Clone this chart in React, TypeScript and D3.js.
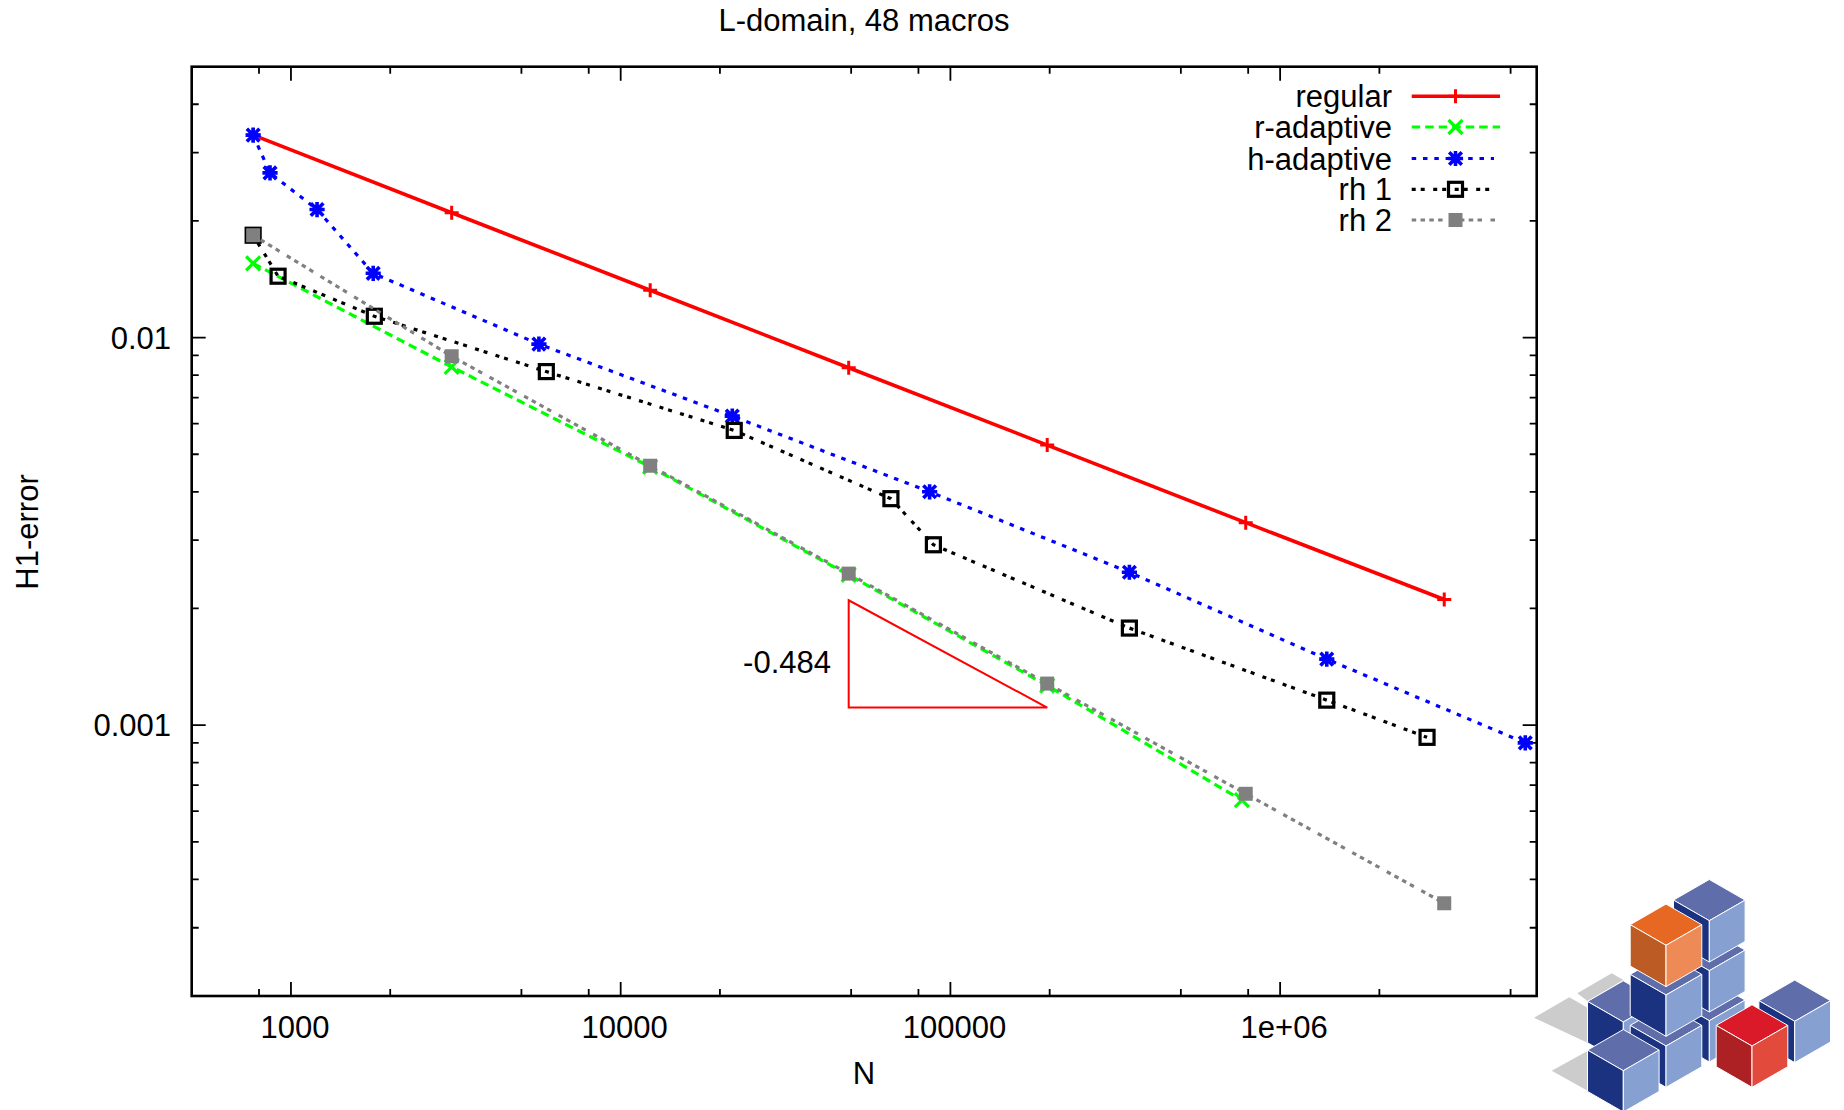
import React from 'react'
import * as d3 from 'd3'

const regularN = [768, 3072, 12288, 49152, 196608, 786432, 3145728]
const regularErr = [0.0333, 0.021, 0.01325, 0.00836, 0.00528, 0.00333, 0.00211]

const rAdaptiveN = [768, 3072, 12288, 49152, 196608, 766000]
const rAdaptiveErr = [0.01554, 0.0084, 0.00464, 0.00244, 0.001265, 0.00064]

const hAdaptiveN = [768, 864, 1200, 1776, 5650, 21800, 86500, 349000, 1385000, 5540000]
const hAdaptiveErr = [0.0333, 0.0266, 0.0214, 0.01465, 0.00962, 0.00627, 0.004, 0.00248, 0.00148, 0.0009]

const rh1N = [768, 914, 1790, 5950, 22100, 66000, 88800, 349000, 1385000, 2790000]
const rh1Err = [0.01837, 0.0144, 0.01135, 0.00817, 0.00576, 0.00384, 0.00292, 0.00178, 0.00116, 0.00093]

const rh2N = [768, 3072, 12288, 49152, 196608, 786432, 3145728]
const rh2Err = [0.01837, 0.00895, 0.00467, 0.00246, 0.00128, 0.000665, 0.000347]

const slopeN = [49152, 196608]
const slopeErr = [0.00111, 0.0021]

const xMajor = [1000, 10000, 100000, 1000000]
const xMajorLabels = ['1000', '10000', '100000', '1e+06']
const xMinor = [800, 2000, 5000, 8000, 20000, 50000, 80000, 200000, 500000, 800000, 2000000, 5000000]
const yMajor = [0.01, 0.001]
const yMajorLabels = ['0.01', '0.001']
const yMinor = [
	0.04, 0.03, 0.02, 0.009, 0.008, 0.007, 0.006, 0.005, 0.004, 0.003, 0.002,
	0.0009, 0.0008, 0.0007, 0.0006, 0.0005, 0.0004, 0.0003,
]

const seriesNames = ['regular', 'r-adaptive', 'h-adaptive', 'rh 1', 'rh 2']
const seriesColors = ['#ff0000', '#00ff00', '#0000ff', '#000000', '#808080']
const seriesDashes = ['none', '8.5 5', '4.5 6.8', '4 5 4 8.5', '4.5 4.3 4.5 4.3 4.5 4.3 4.5 8.5']
const seriesMarkers = ['plus', 'cross', 'star', 'box', 'filled']
const seriesN = [regularN, rAdaptiveN, hAdaptiveN, rh1N, rh2N]
const seriesErr = [regularErr, rAdaptiveErr, hAdaptiveErr, rh1Err, rh2Err]
const legendY = [96.3, 127, 158.5, 189.3, 220]
const legendEnd = [1500, 1500, 1494, 1492, 1496]

const width = 1844
const height = 1110
const frame = { left: 191.7, right: 1536.7, top: 66.7, bottom: 996 }
const font = '"Liberation Sans", Arial, sans-serif'
const fontSize = 31

const xScale = d3.scaleLog().domain([500, 6000000]).range([frame.left, frame.right])
const yScale = d3.scaleLog().domain([0.0002, 0.05]).range([frame.bottom, frame.top])

const linePath = d3
	.line<[number, number]>()
	.x(d => xScale(d[0]))
	.y(d => yScale(d[1]))

function Marker({ kind, x, y, color }: { kind: string; x: number; y: number; color: string }) {
	const r = 7
	if (kind === 'plus') {
		return <path d={`M${x - r},${y}H${x + r}M${x},${y - r}V${y + r}`} stroke={color} strokeWidth={3} fill="none" />
	}
	if (kind === 'cross') {
		return (
			<path
				d={`M${x - r},${y - r}L${x + r},${y + r}M${x - r},${y + r}L${x + r},${y - r}`}
				stroke={color}
				strokeWidth={3.2}
				fill="none"
			/>
		)
	}
	if (kind === 'star') {
		const a = 7.6
		const d = 6.3
		return (
			<path
				d={`M${x - a},${y}H${x + a}M${x},${y - a}V${y + a}M${x - d},${y - d}L${x + d},${y + d}M${x - d},${y + d}L${x + d},${y - d}`}
				stroke={color}
				strokeWidth={3.6}
				fill="none"
			/>
		)
	}
	if (kind === 'box') {
		return <rect x={x - r} y={y - r} width={r * 2} height={r * 2} stroke={color} strokeWidth={3.2} fill="none" />
	}
	return <rect x={x - r} y={y - r} width={r * 2} height={r * 2} fill={color} />
}

// logo cubes: front vertex, in pixels of the page
const cubeVertices = [
	[1709.3, 1020.7], [1709.3, 970.7], [1709.3, 920.7],
	[1623.3, 1022], [1794.7, 1021.3], [1666, 1046], [1666, 995],
	[1666, 945.3], [1752, 1046], [1623.3, 1070.7],
]
const cubeColors = ['blue', 'blue', 'blue', 'blue', 'blue', 'blue', 'blue', 'orange', 'red', 'blue']
const palette: Record<string, string[]> = {
	blue: ['#5f6dab', '#1a327f', '#86a0d1'],
	orange: ['#e66822', '#bd5b25', '#ee8a55'],
	red: ['#da1a29', '#ad2124', '#e24b3b'],
}
const shadows = [
	'1534,1017.7 1569.3,997.3 1588,1008 1588,1043',
	'1577.3,993.3 1611.7,973.3 1623.3,980 1587.7,1001.3',
	'1551.7,1070.7 1588,1050.7 1588,1091',
]

function Cube({ x, y, colors }: { x: number; y: number; colors: string[] }) {
	const w = 35.8
	const dy = 20.6
	const h = 41.3
	const faces = [
		`${x},${y} ${x - w},${y - dy} ${x},${y - dy * 2} ${x + w},${y - dy}`,
		`${x},${y} ${x - w},${y - dy} ${x - w},${y - dy + h} ${x},${y + h}`,
		`${x},${y} ${x + w},${y - dy} ${x + w},${y - dy + h} ${x},${y + h}`,
	]
	return (
		<g>
			{faces.map((f, i) => (
				<polygon key={i} points={f} fill={colors[i]} stroke="#ffffff" strokeWidth={1} strokeLinejoin="round" />
			))}
		</g>
	)
}

export default function App() {
	return (
		<svg
			width={width}
			height={height}
			style={{ position: 'absolute', left: 0, top: 0, background: '#ffffff' }}
			fontFamily={font}
			fontSize={fontSize}
		>
			<text x={864} y={31} textAnchor="middle">L-domain, 48 macros</text>

			{xMinor.map(t => (
				<path
					key={t}
					d={`M${xScale(t)},${frame.bottom}v-7M${xScale(t)},${frame.top}v7`}
					stroke="#000"
					strokeWidth={1.8}
				/>
			))}
			{xMajor.map((t, i) => (
				<g key={t}>
					<path d={`M${xScale(t)},${frame.bottom}v-14M${xScale(t)},${frame.top}v14`} stroke="#000" strokeWidth={1.8} />
					<text x={xScale(t) + 4} y={1038} textAnchor="middle">{xMajorLabels[i]}</text>
				</g>
			))}
			{yMinor.map(t => (
				<path
					key={t}
					d={`M${frame.left},${yScale(t)}h7M${frame.right},${yScale(t)}h-7`}
					stroke="#000"
					strokeWidth={1.8}
				/>
			))}
			{yMajor.map((t, i) => (
				<g key={t}>
					<path d={`M${frame.left},${yScale(t)}h14M${frame.right},${yScale(t)}h-14`} stroke="#000" strokeWidth={1.8} />
					<text x={171} y={yScale(t) + 11} textAnchor="end">{yMajorLabels[i]}</text>
				</g>
			))}

			<rect
				x={frame.left}
				y={frame.top}
				width={frame.right - frame.left}
				height={frame.bottom - frame.top}
				fill="none"
				stroke="#000"
				strokeWidth={2.6}
			/>

			<text x={864} y={1084} textAnchor="middle">N</text>
			<text transform="translate(38,532) rotate(-90)" textAnchor="middle">H1-error</text>

			<path
				d={`M${xScale(slopeN[0])},${yScale(slopeErr[1])}V${yScale(slopeErr[0])}H${xScale(slopeN[1])}Z`}
				fill="none"
				stroke="#ff0000"
				strokeWidth={2}
			/>
			<text x={831} y={673} textAnchor="end">-0.484</text>

			{seriesNames.map((name, s) => {
				const pts = seriesN[s].map((n, i) => [n, seriesErr[s][i]] as [number, number])
				return (
					<g key={name}>
						<path
							d={linePath(pts) ?? ''}
							fill="none"
							stroke={seriesColors[s]}
							strokeWidth={s === 0 ? 3.6 : 3.2}
							strokeDasharray={seriesDashes[s]}
						/>
						{pts.map((p, i) => (
							<Marker key={i} kind={seriesMarkers[s]} x={xScale(p[0])} y={yScale(p[1])} color={seriesColors[s]} />
						))}
					</g>
				)
			})}

			{seriesNames.map((name, s) => (
				<g key={name}>
					<text x={1392} y={legendY[s] + 11} textAnchor="end">{name}</text>
					<path
						d={`M1411.7,${legendY[s]}H${legendEnd[s]}`}
						stroke={seriesColors[s]}
						strokeWidth={s === 0 ? 3.6 : 3.2}
						strokeDasharray={seriesDashes[s]}
						fill="none"
					/>
					<Marker kind={seriesMarkers[s]} x={1455.5} y={legendY[s]} color={seriesColors[s]} />
				</g>
			))}

			{shadows.map(p => (
				<polygon key={p} points={p} fill="#cccccc" />
			))}
			{cubeVertices.map((v, i) => (
				<Cube key={i} x={v[0]} y={v[1]} colors={palette[cubeColors[i]]} />
			))}
		</svg>
	)
}
